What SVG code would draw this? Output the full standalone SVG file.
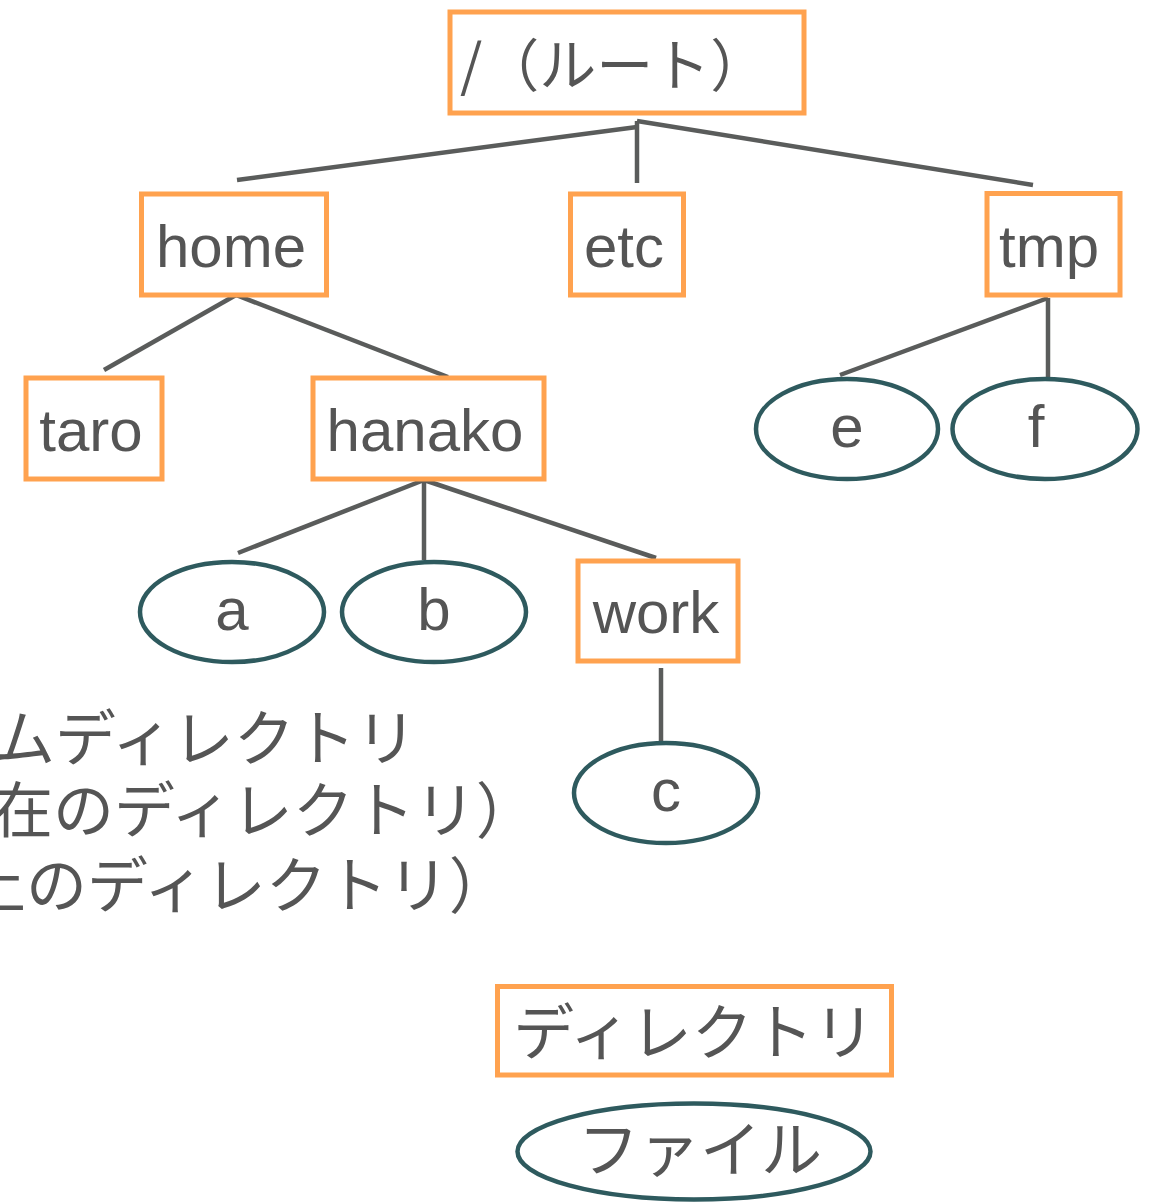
<svg xmlns="http://www.w3.org/2000/svg" width="1157" height="1203" viewBox="0 0 1157 1203">
<style>
.dir{fill:#fff;stroke:#FFA24F;stroke-width:5}
.file{fill:#fff;stroke:#2E5A5E;stroke-width:4.5}
.lbl{font-family:"Liberation Sans",Arial,sans-serif;font-size:60px;fill:#555;text-anchor:middle}
.jp{font-family:"Noto Sans CJK JP","Noto Sans",sans-serif;font-size:61px;fill:#555}
.con line{stroke:#5A5C5B;stroke-width:4.5;fill:none}
</style>
<rect width="1157" height="1203" fill="#fff"/>
<g class="con" id="connectors">
<line x1="637" y1="127" x2="237" y2="180"/>
<line x1="637" y1="121" x2="637" y2="183"/>
<line x1="637" y1="121" x2="1033" y2="185"/>
<line x1="236" y1="295" x2="104" y2="370"/>
<line x1="236" y1="295" x2="448" y2="377"/>
<line x1="424" y1="480" x2="238" y2="553"/>
<line x1="424" y1="480" x2="424" y2="560"/>
<line x1="424" y1="480" x2="656" y2="558"/>
<line x1="1048" y1="298" x2="840" y2="375"/>
<line x1="1048" y1="298" x2="1048" y2="377"/>
<line x1="661" y1="668" x2="661" y2="745"/>
</g>
<g id="root"><rect class="dir" x="450" y="12" width="354" height="101"/><text class="jp" x="460" y="86" style="font-size:57px">/（ルート）</text></g>
<g id="home"><rect class="dir" x="141.5" y="194" width="185" height="101"/><text class="lbl" x="231" y="267">home</text></g>
<g id="etc"><rect class="dir" x="570.5" y="194" width="113" height="101"/><text class="lbl" x="624" y="267">etc</text></g>
<g id="tmp"><rect class="dir" x="987" y="193.5" width="133" height="101.5"/><text class="lbl" x="1049" y="267">tmp</text></g>
<g id="taro"><rect class="dir" x="26" y="378" width="136" height="101"/><text class="lbl" x="91" y="451">taro</text></g>
<g id="hanako"><rect class="dir" x="313" y="378" width="231" height="101"/><text class="lbl" x="425" y="451">hanako</text></g>
<g id="work"><rect class="dir" x="578" y="561" width="160" height="100"/><text class="lbl" x="656" y="633">work</text></g>
<g id="a"><ellipse class="file" cx="232" cy="612" rx="92" ry="50"/><text class="lbl" x="232" y="630">a</text></g>
<g id="b"><ellipse class="file" cx="434" cy="612" rx="92" ry="50"/><text class="lbl" x="434" y="630">b</text></g>
<g id="e"><ellipse class="file" cx="847" cy="429" rx="91" ry="50"/><text class="lbl" x="847" y="447">e</text></g>
<g id="f"><ellipse class="file" cx="1045" cy="429" rx="92.5" ry="50"/><text class="lbl" x="1036" y="447">f</text></g>
<g id="c"><ellipse class="file" cx="666" cy="793" rx="92" ry="50"/><text class="lbl" x="666" y="811">c</text></g>
<g id="notes">
<text class="jp" x="-6" y="761">ムディレクトリ</text>
<text class="jp" x="-8" y="833">在のディレクトリ）</text>
<text class="jp" x="-35" y="908">上のディレクトリ）</text>
</g>
<g id="legend-dir"><rect class="dir" x="497.5" y="986.5" width="394" height="88.5"/><text class="jp" x="694" y="1055" text-anchor="middle">ディレクトリ</text></g>
<g id="legend-file"><ellipse class="file" cx="694" cy="1151.5" rx="176.5" ry="48"/><text class="jp" x="700" y="1172" text-anchor="middle">ファイル</text></g>
</svg>
